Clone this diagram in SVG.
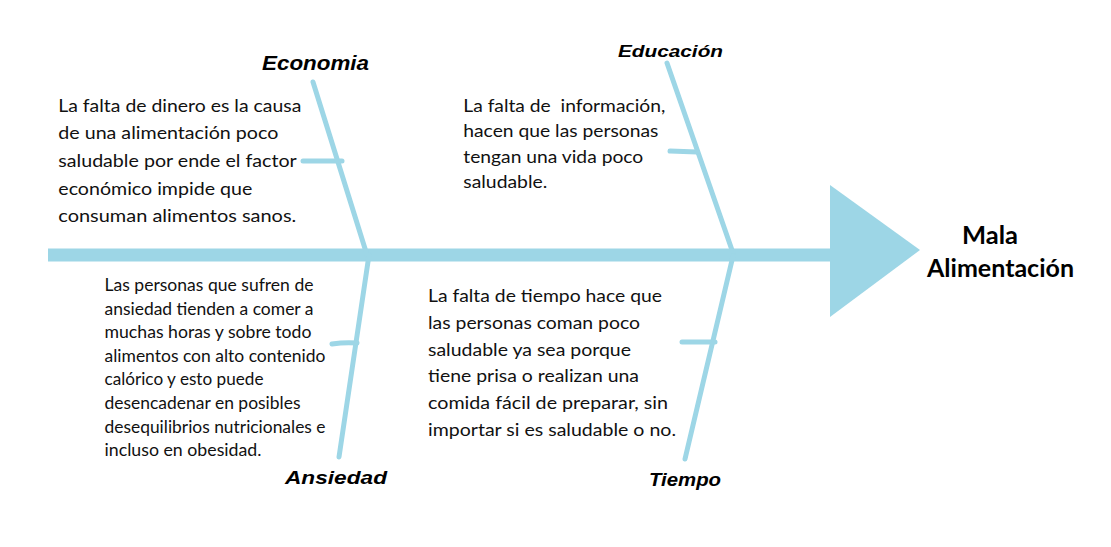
<svg xmlns="http://www.w3.org/2000/svg" width="1111" height="547" viewBox="0 0 1111 547">
<style>
.bone{stroke:#9dd6e6;stroke-width:5;stroke-linecap:round;fill:none}
.spine{stroke:#9dd6e6;stroke-width:13;fill:none}
.head{fill:#9dd6e6}
.body{font-family:Lato,"Open Sans",sans-serif;fill:#111}
.lab{font-family:"Liberation Sans",Arial,sans-serif;font-weight:bold;font-style:italic;fill:#000}
.eff{font-family:Lato,"Liberation Sans",sans-serif;font-weight:bold;fill:#000;font-size:24px}
</style>
<rect width="1111" height="547" fill="#fff"/>
<g id="connectors">
<line class="spine" x1="48" y1="255" x2="832" y2="255"/>
<line class="bone" x1="313" y1="82" x2="367" y2="255"/>
<line class="bone" x1="369" y1="255" x2="339" y2="457"/>
<line class="bone" x1="303" y1="161" x2="342" y2="161"/>
<path class="bone" d="M332,344 Q345,342 357,343"/>
<line class="bone" x1="667" y1="63" x2="733" y2="253"/>
<line class="bone" x1="733" y1="256" x2="685" y2="459"/>
<line class="bone" x1="670" y1="151" x2="697" y2="152"/>
<line class="bone" x1="682" y1="342" x2="715" y2="342"/>
</g>
<g id="effect">
<polygon class="head" points="830,185 920,250 830,317"/>
<text class="eff" x="962" y="244" textLength="56" lengthAdjust="spacingAndGlyphs">Mala</text>
<text class="eff" x="927" y="277" textLength="147" lengthAdjust="spacingAndGlyphs">Alimentación</text>
</g>
<g id="economia">
<text class="lab" x="262" y="70" font-size="21" textLength="107" lengthAdjust="spacingAndGlyphs">Economia</text>
<text class="body" font-size="17.5">
<tspan x="58.3" y="111.7" textLength="243" lengthAdjust="spacingAndGlyphs">La falta de dinero es la causa</tspan>
<tspan x="58.3" y="139.3" textLength="220" lengthAdjust="spacingAndGlyphs">de una alimentación poco</tspan>
<tspan x="58.3" y="166.9" textLength="238" lengthAdjust="spacingAndGlyphs">saludable por ende el factor</tspan>
<tspan x="58.3" y="194.5" textLength="194" lengthAdjust="spacingAndGlyphs">económico impide que</tspan>
<tspan x="58.3" y="222.1" textLength="238" lengthAdjust="spacingAndGlyphs">consuman alimentos sanos.</tspan>
</text>
</g>
<g id="educacion">
<text class="lab" x="618" y="57" font-size="17" textLength="105" lengthAdjust="spacingAndGlyphs">Educación</text>
<text class="body" font-size="17.5">
<tspan x="463.3" y="111.7" textLength="202" lengthAdjust="spacingAndGlyphs">La falta de &#160;información,</tspan>
<tspan x="463.3" y="137.2" textLength="195" lengthAdjust="spacingAndGlyphs">hacen que las personas</tspan>
<tspan x="463.3" y="162.7" textLength="180" lengthAdjust="spacingAndGlyphs">tengan una vida poco</tspan>
<tspan x="463.3" y="188.2" textLength="84" lengthAdjust="spacingAndGlyphs">saludable.</tspan>
</text>
</g>
<g id="ansiedad">
<text class="lab" x="285" y="484" font-size="18" textLength="102" lengthAdjust="spacingAndGlyphs">Ansiedad</text>
<text class="body" font-size="16.5">
<tspan x="104.5" y="291" textLength="209" lengthAdjust="spacingAndGlyphs">Las personas que sufren de</tspan>
<tspan x="104.5" y="314.6" textLength="209" lengthAdjust="spacingAndGlyphs">ansiedad tienden a comer a</tspan>
<tspan x="104.5" y="338.2" textLength="207" lengthAdjust="spacingAndGlyphs">muchas horas y sobre todo</tspan>
<tspan x="104.5" y="361.8" textLength="221" lengthAdjust="spacingAndGlyphs">alimentos con alto contenido</tspan>
<tspan x="104.5" y="385.4" textLength="159" lengthAdjust="spacingAndGlyphs">calórico y esto puede</tspan>
<tspan x="104.5" y="409" textLength="196" lengthAdjust="spacingAndGlyphs">desencadenar en posibles</tspan>
<tspan x="104.5" y="432.6" textLength="221" lengthAdjust="spacingAndGlyphs">desequilibrios nutricionales e</tspan>
<tspan x="104.5" y="456.2" textLength="157" lengthAdjust="spacingAndGlyphs">incluso en obesidad.</tspan>
</text>
</g>
<g id="tiempo">
<text class="lab" x="649" y="486" font-size="18" textLength="72" lengthAdjust="spacingAndGlyphs">Tiempo</text>
<text class="body" font-size="17.5">
<tspan x="428" y="301.7" textLength="234" lengthAdjust="spacingAndGlyphs">La falta de tiempo hace que</tspan>
<tspan x="428" y="328.6" textLength="212" lengthAdjust="spacingAndGlyphs">las personas coman poco</tspan>
<tspan x="428" y="355.5" textLength="203" lengthAdjust="spacingAndGlyphs">saludable ya sea porque</tspan>
<tspan x="428" y="382.4" textLength="211" lengthAdjust="spacingAndGlyphs">tiene prisa o realizan una</tspan>
<tspan x="428" y="409.3" textLength="240" lengthAdjust="spacingAndGlyphs">comida fácil de preparar, sin</tspan>
<tspan x="428" y="436.2" textLength="248" lengthAdjust="spacingAndGlyphs">importar si es saludable o no.</tspan>
</text>
</g>
</svg>
